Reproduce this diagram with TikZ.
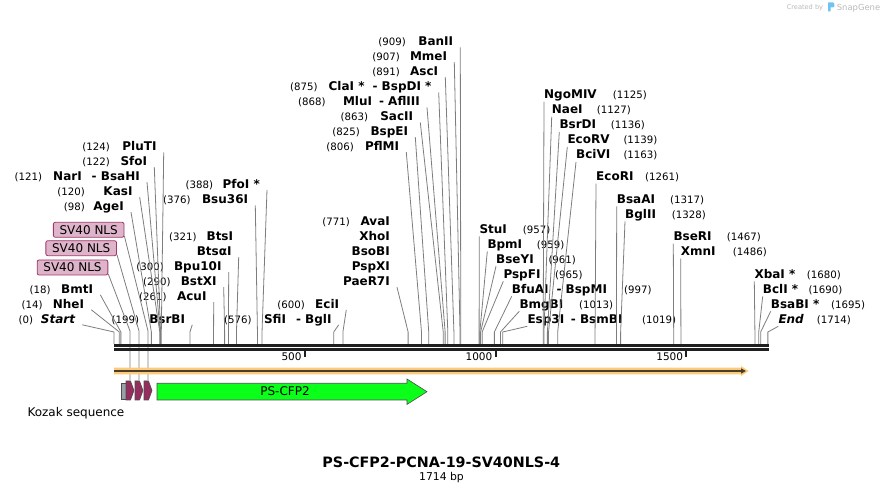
\documentclass[tikz,border=0pt]{standalone}
\usepackage{fontspec}
\setmainfont{DejaVu Sans}
\usetikzlibrary{arrows.meta}
\definecolor{cutgray}{RGB}{125,125,125}
\definecolor{nlsfill}{RGB}{222,180,202}
\definecolor{nlsedge}{RGB}{160,55,105}
\definecolor{nlsarrow}{RGB}{150,45,95}
\definecolor{cfpgreen}{RGB}{10,255,25}
\definecolor{kozakgray}{RGB}{155,160,168}
\definecolor{orangebar}{RGB}{250,202,125}
\definecolor{barline}{RGB}{75,60,40}
\definecolor{logoblue}{RGB}{110,195,240}
\definecolor{creditgray}{RGB}{185,185,185}
\begin{document}
\begin{tikzpicture}[x=1pt,y=-1pt,
  enzl/.style={anchor=base east,inner sep=0pt,font=\bfseries\fontsize{12}{14}\selectfont},
  enzr/.style={enzl,anchor=base west},
  numl/.style={anchor=base east,inner sep=0pt,font=\fontsize{10.2}{12}\selectfont},
  numr/.style={numl,anchor=base west},
  cut/.style={draw=cutgray,line width=0.8pt},
  nlsbox/.style={draw=nlsedge,fill=nlsfill,rounded corners=2pt,line width=0.8pt,
    minimum width=70.7pt,minimum height=15pt,inner sep=0pt,font=\fontsize{12}{14}\selectfont},
  feat/.style={draw=black!70,line width=0.6pt}]
\useasboundingbox (0,0) rectangle (884,494);

% enzymes left of their site
\foreach \id/\txt/\px/\py/\n/\xn in {
  pluti/PluTI/156.7/151/124/110, sfoi/SfoI/147.3/165.7/122/110,
  nari/{NarI\hspace{10pt}- BsaHI}/140/180.7/121/42.3, kasi/KasI/132.7/195.7/120/85,
  agei/AgeI/124/210.7/98/85, bmti/BmtI/93.3/293.3/18/50.7,
  nhei/NheI/84.3/308.3/14/42.7, start/{\itshape Start}/75.3/323.3/0/33.3,
  bsrbi/BsrBI/185.3/323.3/199/139.3, acui/AcuI/206.7/300.7/261/166.7,
  bstxi/BstXI/216.7/285.7/290/170.7, bpu/Bpu10I/221.7/270.7/300/164,
  btsi/BtsI/233.3/240.7/321/196.7, bsu/Bsu36I/248.3/204/376/190.7,
  pfoi/{PfoI *}/260/188.3/388/213.3, ecii/EciI/339.3/308.3/600/305,
  sfii/{SfiI\hspace{10pt}- BglI}/331.7/323.3/576/251.7, avai/AvaI/390/225.7/771/350,
  pflmi/PflMI/399.3/150.7/806/354, bspei/BspEI/408.3/135.7/825/360,
  sacii/SacII/413.3/121/863/368.3, mlui/{MluI\hspace{7pt}- AflIII}/420/106/868/325.7,
  clai/{ClaI *\hspace{8pt}- BspDI *}/431.7/91/875/317.7, asci/AscI/438.3/75.7/891/400,
  mmei/MmeI/447.3/60.7/907/400, banii/BanII/453.3/46/909/406} {
  \node[enzl] (\id) at (\px,\py) {\txt};
  \node[numl] (\id-n) at (\xn,\py) {(\n)};
}
% same site, no number
\foreach \id/\txt/\px/\py in {btsai/BtsαI/231.7/255.7, xhoi/XhoI/390/241,
  bsobi/BsoBI/390/256, pspxi/PspXI/390/270.7, paer7i/PaeR7I/390/285.7}
  \node[enzl] (\id) at (\px,\py) {\txt};

% enzymes right of their site
\foreach \id/\txt/\px/\py/\n/\xn in {
  stui/StuI/479.3/233.3/957/522.7, bpmi/BpmI/487.3/248.3/959/536.7,
  bseyi/BseYI/496/263.3/961/548.3, pspfi/PspFI/503.3/278.3/965/555,
  bfuai/{BfuAI\hspace{8pt}- BspMI}/511.7/293.3/997/624, bmgbi/BmgBI/519.3/308.3/1013/579,
  esp3i/{Esp3I\hspace{6.7pt}- BsmBI}/527.3/323.3/1019/642,
  ngomiv/NgoMIV/544/99/1125/612.7, naei/NaeI/551.7/114/1127/596.7,
  bsrdi/BsrDI/559.3/129/1136/610.7, ecorv/EcoRV/567.3/144/1139/623.3,
  bcivi/BciVI/576/159/1163/623.3, ecori/EcoRI/596/180.7/1261/645,
  bsaai/BsaAI/616.7/203.3/1317/670, bglii/BglII/625/218.3/1328/671.7,
  bseri/BseRI/673.3/240.7/1467/726.7, xmni/XmnI/680.7/255.7/1486/732.7,
  xbai/{XbaI *}/754.3/278.3/1680/806.7, bcli/{BclI *}/762.7/293.3/1690/808.3,
  bsabi/{BsaBI *}/770.7/308.3/1695/831, end/{\itshape End}/778.3/323.3/1714/816.7} {
  \node[enzr] (\id) at (\px,\py) {\txt};
  \node[numr] (\id-n) at (\xn,\py) {(\n)};
}

% cut lines down to the backbone
\foreach \id/\p in {start/0, nhei/14, bmti/18, agei/98, kasi/120, nari/121,
  sfoi/122, pluti/124, bsrbi/199, acui/261, bstxi/290, bpu/300, btsai/321,
  bsu/376, pfoi/388, sfii/576, ecii/600, paer7i/771, pflmi/806, bspei/825,
  sacii/863, mlui/868, clai/875, asci/891, mmei/907, banii/909} {
  \coordinate (s-\id) at ({114+0.3815*\p},344);
  \draw[cut] ([shift={(7pt,-1.5pt)}]\id.base east) -- ([yshift=12pt]s-\id) -- (s-\id);
}
\foreach \id/\p in {stui/957, bpmi/959, bseyi/961, pspfi/965, bfuai/997,
  bmgbi/1013, esp3i/1019, ngomiv/1125, naei/1127, bsrdi/1136, ecorv/1139,
  bcivi/1163, ecori/1261, bsaai/1317, bglii/1328, bseri/1467, xmni/1486,
  xbai/1680, bcli/1690, bsabi/1695, end/1714} {
  \coordinate (s-\id) at ({114+0.3815*\p},344);
  \draw[cut] ([yshift=-3pt]\id.base west) -- ([yshift=12pt]s-\id) -- (s-\id);
}

% SV40 NLS labels and their lines
\node[nlsbox] (sv1) at (88.7,229.8) {SV40 NLS};
\node[nlsbox] (sv2) at (81.2,248.2) {SV40 NLS};
\node[nlsbox] (sv3) at (72.5,267.5) {SV40 NLS};
\foreach \i/\a in {1/126,2/135,3/144}
  \coordinate (nls\i) at ({\a+4},380);
\draw[cut] ([yshift=1.5pt]sv1.south east) -- ([yshift=49pt]nls3) -- (nls3);
\draw[cut] ([yshift=1.5pt]sv2.south east) -- ([yshift=49pt]nls2) -- (nls2);
\draw[cut] ([yshift=1.5pt]sv3.south east) -- ([yshift=49pt]nls1) -- (nls1);

% backbone and ticks
\draw[line width=2.7pt,black!88] (114,345.3) -- (769,345.3);
\draw[line width=2.5pt,black!88] (114,349.5) -- (769,349.5);
\foreach \t in {500,1000,1500} {
  \draw[line width=2pt,black!88] ({114+0.3815*\t},350.5) -- ({114+0.3815*\t},357.5);
  \node[numl,font=\fontsize{10.5}{12}\selectfont] (tick\t) at ({111+0.3815*\t},360.7) {\t};
}

% orange bar
\fill[orangebar] (114,367.7) -- (741,367.7) -- (741,366) -- (748.5,371) -- (741,376)
  -- (741,374.3) -- (114,374.3) -- cycle;
\draw[barline,line width=1.6pt,-{Triangle[length=5pt,width=5pt]}] (114,371) -- (746,371);

% features
\draw[feat,fill=kozakgray] (121,383) rectangle (126,399);
\foreach \i/\a in {1/126,2/135,3/144}
  \draw[feat,fill=nlsarrow] (\a,381) -- ({\a+4.5},381) -- ({\a+8},390.5)
    -- ({\a+4.5},400) -- (\a,400) -- cycle;
\draw[feat,fill=cfpgreen] (157,383.3) -- (407,383.3) -- (407,379) -- (427,391.7)
  -- (407,404.4) -- (407,400) -- (157,400) -- cycle;
\node[font=\fontsize{12}{14}\selectfont,inner sep=0pt,anchor=base] (cfp) at (285,395.5) {PS-CFP2};
\node[font=\fontsize{12}{14}\selectfont,inner sep=0pt,anchor=base west] (kozak) at (27.3,417) {Kozak sequence};

% title
\node[font=\bfseries\fontsize{14.3}{16}\selectfont,inner sep=0pt,anchor=base] (title) at (441.3,467.3) {PS-CFP2-PCNA-19-SV40NLS-4};
\node[font=\fontsize{10.8}{12}\selectfont,inner sep=0pt,anchor=base] (size) at (441.5,480.7) {1714 bp};

% credit
\node[font=\fontsize{6.6}{8}\selectfont,text=creditgray,inner sep=0pt,anchor=base east] (credit) at (823.3,10) {Created by};
\fill[logoblue] (828,2.5) -- (833,2.5) to[out=0,in=0] (833,7.5) -- (830.5,7.5) -- (830.5,11.5) -- (828,11.5) -- cycle;
\node[font=\fontsize{8.4}{10}\selectfont,text=creditgray,inner sep=0pt,anchor=base west] (snapgene) at (836.7,10.5) {SnapGene};
\end{tikzpicture}
\end{document}
